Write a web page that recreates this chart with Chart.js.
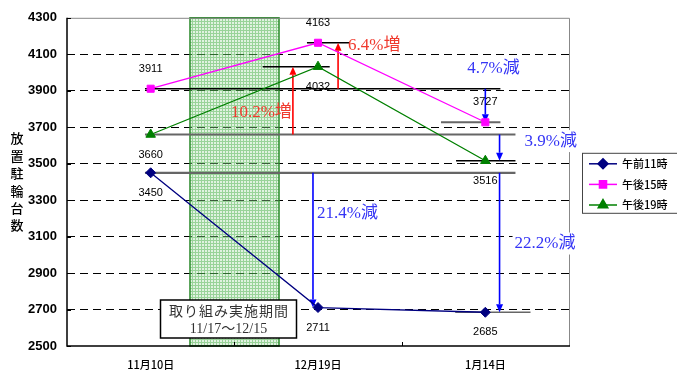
<!DOCTYPE html>
<html>
<head>
<meta charset="utf-8">
<script src="https://cdn.jsdelivr.net/npm/chart.js@4/dist/chart.umd.min.js"></script>
<style>
  html, body { margin: 0; padding: 0; background: #fff; }
  #wrap { width: 677px; height: 372px; }
</style>
</head>
<body>
<div id="wrap"><canvas id="c" width="677" height="372"></canvas></div>
<script>
// Survey dates and parked-bicycle counts per time of day
const categories = ['11月10日', '12月19日', '1月14日'];
const seriesNames = ['午前11時', '午後15時', '午後19時'];
const am11 = [3450, 2711, 2685];
const pm15 = [3911, 4163, 3727];
const pm19 = [3660, 4032, 3516];

// Value axis
const yMin = 2500;
const yMax = 4300;
const yStep = 200;

// Texts
const axisTitle = '放置駐輪台数';
const periodTitle = '取り組み実施期間';
const periodDates = '11/17～12/15';

// Campaign period, in category units (between the first and second survey)
const periodSpan = [0.235, 0.767];

// Comparisons: arrow from one count to another, placed at a category position
const changes = [
  { from: pm19[0], to: pm19[1], at: 0.85,  labelDx: -62, labelV: 3780, boxed: false },
  { from: pm15[0], to: pm15[1], at: 1.12,  labelDx: 10,  labelV: 4147, boxed: false },
  { from: pm15[0], to: pm15[2], at: 2.0,   labelDx: -18, labelV: 4022, boxed: false },
  { from: pm19[0], to: pm19[2], at: 2.085, labelDx: 25,  labelV: 3624, boxed: true },
  { from: am11[0], to: am11[1], at: 0.97,  labelDx: 4,   labelV: 3225, boxed: false },
  { from: am11[0], to: am11[2], at: 2.085, labelDx: 15,  labelV: 3062, boxed: true }
];

// Horizontal reference levels for the comparisons
const levels = [
  { v: pm15[1], x0: 0.934,  x1: 1.19, color: '#000', w: 1.5 },
  { v: pm19[1], x0: 0.67,   x1: 1.07, color: '#000', w: 1.5 },
  { v: pm15[0], x0: -0.034, x1: 2.09, color: '#000', w: 1.5 },
  { v: pm15[2], x0: 1.735,  x1: 2.09, color: '#666', w: 2 },
  { v: pm19[0], x0: -0.034, x1: 2.18, color: '#666', w: 2.2 },
  { v: pm19[2], x0: 1.825,  x1: 2.18, color: '#000', w: 1.5 },
  { v: am11[0], x0: -0.034, x1: 2.18, color: '#666', w: 2.2 },
  { v: am11[2], x0: 1.82,   x1: 2.27, color: '#666', w: 1.5 }
];

const SANS = '"Liberation Sans", Arial, "Noto Sans CJK JP", sans-serif';
const JP = '"Noto Sans CJK JP", sans-serif';
const SERIF = '"Liberation Serif", "Noto Sans CJK JP", serif';

function pctLabel(c) {
  const p = Math.abs(c.to / c.from - 1) * 100;
  return p.toFixed(1) + '%' + (c.to > c.from ? '増' : '減');
}

// fine translucent green grid used to shade the campaign period
function bandPattern(ctx) {
  const t = document.createElement('canvas');
  t.width = 3; t.height = 3;
  const g = t.getContext('2d');
  g.fillStyle = 'rgba(0,150,0,0.12)';
  g.fillRect(1, 1, 2, 2);
  g.fillStyle = 'rgba(0,145,0,0.4)';
  g.fillRect(0, 0, 3, 1);
  g.fillRect(0, 1, 1, 2);
  return ctx.createPattern(t, 'repeat');
}

function catX(chart, f) {
  const xs = chart.scales.x;
  const p0 = xs.getPixelForValue(0);
  const p1 = xs.getPixelForValue(1);
  return p0 + f * (p1 - p0);
}

function arrow(ctx, x, y0, y1, color) {
  const dir = y1 < y0 ? -1 : 1;
  const head = 8;
  ctx.save();
  ctx.strokeStyle = color;
  ctx.fillStyle = color;
  ctx.lineWidth = 1.6;
  ctx.beginPath();
  ctx.moveTo(x, y0);
  ctx.lineTo(x, y1 - dir * head);
  ctx.stroke();
  ctx.beginPath();
  ctx.moveTo(x, y1);
  ctx.lineTo(x - 3.5, y1 - dir * head);
  ctx.lineTo(x + 3.5, y1 - dir * head);
  ctx.closePath();
  ctx.fill();
  ctx.restore();
}

const decor = {
  id: 'decor',
  beforeDatasetsDraw(chart) {
    const { ctx, chartArea: a, scales: { y } } = chart;
    // campaign period band
    const bx0 = catX(chart, periodSpan[0]);
    const bx1 = catX(chart, periodSpan[1]);
    ctx.save();
    ctx.fillStyle = 'rgba(255,255,255,0.3)';
    ctx.fillRect(bx0, a.top, bx1 - bx0, a.bottom - a.top);
    ctx.fillStyle = bandPattern(ctx);
    ctx.fillRect(bx0, a.top, bx1 - bx0, a.bottom - a.top);
    ctx.strokeStyle = '#2a8a2a';
    ctx.lineWidth = 1.5;
    ctx.strokeRect(bx0, a.top, bx1 - bx0, a.bottom - a.top);

    // plot frame
    ctx.lineWidth = 1;
    ctx.strokeStyle = '#888';
    ctx.beginPath();
    ctx.moveTo(a.left, a.top + 0.5); ctx.lineTo(a.right + 0.5, a.top + 0.5);
    ctx.lineTo(a.right + 0.5, a.bottom);
    ctx.stroke();
    ctx.strokeStyle = '#000';
    ctx.lineWidth = 1.5;
    ctx.beginPath();
    ctx.moveTo(a.left, a.top); ctx.lineTo(a.left, a.bottom);
    ctx.lineTo(a.right + 1, a.bottom);
    ctx.stroke();
    // inward tick marks
    ctx.lineWidth = 1;
    ctx.beginPath();
    for (let v = yMin; v <= yMax; v += yStep) {
      const py = Math.round(y.getPixelForValue(v)) + 0.5;
      ctx.moveTo(a.left, py); ctx.lineTo(a.left + 4, py);
    }
    for (let i = 1; i < categories.length; i++) {
      const px = Math.round(catX(chart, i - 0.5)) + 0.5;
      ctx.moveTo(px, a.bottom); ctx.lineTo(px, a.bottom - 4);
    }
    ctx.stroke();

    // reference levels
    levels.forEach(l => {
      const py = y.getPixelForValue(l.v);
      ctx.strokeStyle = l.color;
      ctx.lineWidth = l.w;
      ctx.beginPath();
      ctx.moveTo(catX(chart, l.x0), py);
      ctx.lineTo(catX(chart, l.x1), py);
      ctx.stroke();
    });

    // change arrows
    changes.forEach(c => {
      const color = c.to > c.from ? '#ff0000' : '#0000ff';
      arrow(ctx, catX(chart, c.at), y.getPixelForValue(c.from), y.getPixelForValue(c.to), color);
    });
    ctx.restore();
  },
  afterDatasetsDraw(chart) {
    const { ctx, chartArea: a, scales: { y } } = chart;
    ctx.save();

    // point value labels
    ctx.font = '11px ' + SANS;
    ctx.fillStyle = '#000';
    ctx.textAlign = 'center';
    ctx.textBaseline = 'middle';
    chart.data.datasets.forEach((ds, di) => {
      const meta = chart.getDatasetMeta(di);
      const dy = ds.labelSide === 'above' ? -20 : 20;
      meta.data.forEach((pt, i) => {
        ctx.fillText(String(ds.data[i]), pt.x, pt.y + dy);
      });
    });

    // percentage labels
    ctx.font = '17px ' + SERIF;
    ctx.textAlign = 'left';
    changes.forEach(c => {
      const txt = pctLabel(c);
      const lx = catX(chart, c.at) + c.labelDx;
      const ly = y.getPixelForValue(c.labelV);
      if (c.boxed) {
        const w = ctx.measureText(txt).width;
        ctx.fillStyle = '#fff';
        ctx.fillRect(lx - 2, ly - 11, w + 4, 22);
      }
      ctx.fillStyle = c.to > c.from ? '#f03a2e' : '#3535f5';
      ctx.fillText(txt, lx, ly);
    });

    // campaign period caption
    const bx0 = catX(chart, periodSpan[0]);
    const bx1 = catX(chart, periodSpan[1]);
    const cx = (bx0 + bx1) / 2 - 6;
    const bw = 136, bh = 38;
    const by = a.bottom - 8 - bh;
    ctx.fillStyle = '#fff';
    ctx.fillRect(cx - bw / 2, by, bw, bh);
    ctx.strokeStyle = '#000';
    ctx.lineWidth = 1.5;
    ctx.strokeRect(cx - bw / 2, by, bw, bh);
    ctx.fillStyle = '#333';
    ctx.font = '14px ' + SERIF;
    ctx.textAlign = 'center';
    const chars = Array.from(periodTitle);
    const step = 15;
    chars.forEach((ch, i) => {
      ctx.fillText(ch, cx + (i - (chars.length - 1) / 2) * step, by + 12);
    });
    ctx.fillText(periodDates, cx, by + 29);

    // vertical axis title
    ctx.fillStyle = '#000';
    ctx.font = '500 13px ' + JP;
    const tchars = Array.from(axisTitle);
    const midY = (a.top + a.bottom) / 2;
    tchars.forEach((ch, i) => {
      ctx.fillText(ch, 17, midY + (i - (tchars.length - 1) / 2) * 17.4);
    });

    // legend
    const lx = a.right + 13, ly = a.top + 135;
    ctx.strokeStyle = '#444';
    ctx.lineWidth = 1;
    ctx.strokeRect(lx + 0.5, ly + 0.5, 110, 60);
    ctx.font = '500 11px ' + JP;
    ctx.textAlign = 'left';
    chart.data.datasets.forEach((ds, di) => {
      const ry = ly + 11 + di * 20.6;
      ctx.strokeStyle = ds.borderColor;
      ctx.lineWidth = 1.5;
      ctx.beginPath();
      ctx.moveTo(lx + 7, ry); ctx.lineTo(lx + 35, ry);
      ctx.stroke();
      Chart.helpers.drawPoint(ctx, {
        pointStyle: ds.pointStyle, radius: ds.pointRadius, borderWidth: 1, rotation: 0
      }, lx + 21, ry);
      ctx.fillStyle = ds.borderColor;
      ctx.fill();
      ctx.fillStyle = '#000';
      ctx.fillText(ds.label, lx + 40, ry);
    });
    ctx.restore();
  }
};

function series(label, data, color, style, radius, side) {
  return {
    label, data,
    borderColor: color, backgroundColor: color,
    pointBackgroundColor: color, pointBorderColor: color,
    pointStyle: style, pointRadius: radius, pointBorderWidth: 1,
    borderWidth: 1.3, tension: 0, fill: false,
    labelSide: side
  };
}

new Chart(document.getElementById('c'), {
  type: 'line',
  data: {
    labels: categories,
    datasets: [
      series(seriesNames[0], am11, '#000080', 'rectRot', 5, 'below'),
      series(seriesNames[1], pm15, '#ff00ff', 'rect', 5, 'above'),
      series(seriesNames[2], pm19, '#008000', 'triangle', 5.5, 'below')
    ]
  },
  options: {
    responsive: false,
    animation: false,
    devicePixelRatio: 1,
    layout: { padding: { left: 0, right: 108, top: 16, bottom: 0 } },
    plugins: { legend: { display: false }, tooltip: { enabled: false } },
    scales: {
      x: {
        type: 'category',
        offset: true,
        grid: { display: false, drawTicks: false },
        border: { display: false },
        ticks: { padding: 12, color: '#000', maxRotation: 0, font: { family: JP, size: 11, weight: '500' } },
        afterFit(s) { s.height = 26; }
      },
      y: {
        min: yMin, max: yMax,
        ticks: {
          stepSize: yStep, padding: 10, color: '#000',
          font: { family: SANS, size: 13, weight: 'bold' },
          callback: v => String(v)
        },
        grid: {
          drawTicks: false,
          lineWidth: 1,
          color: c => (c.tick && (c.tick.value === yMin || c.tick.value === yMax)) ? 'rgba(0,0,0,0)' : '#000'
        },
        border: { display: false, dash: [8, 5] },
        afterFit(s) { s.width = 67; }
      }
    }
  },
  plugins: [decor]
});
</script>
</body>
</html>
